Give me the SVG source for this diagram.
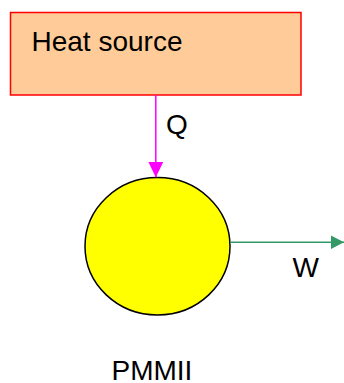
<svg xmlns="http://www.w3.org/2000/svg" width="344" height="383" viewBox="0 0 344 383">
<style>
text{font-family:"Liberation Sans",Arial,sans-serif;font-size:28px;fill:#000}
</style>
<defs>
<marker id="mQ" markerWidth="15" markerHeight="16" refX="15.5" refY="7.5" orient="auto" markerUnits="userSpaceOnUse">
<path d="M0,0 L15.5,7.5 L0,15 Z" fill="#FF00FF"/>
</marker>
<marker id="mW" markerWidth="14" markerHeight="15" refX="13.5" refY="7" orient="auto" markerUnits="userSpaceOnUse">
<path d="M0,0 L13.5,7 L0,14 Z" fill="#339966"/>
</marker>
</defs>
<g id="heat-source">
<rect x="10.5" y="12.5" width="290.5" height="82.5" fill="#FFCC99" stroke="#FF0000" stroke-width="1.5"/>
<text x="31.5" y="50.5">Heat source</text>
</g>
<g id="pmmii">
<ellipse cx="157.5" cy="246.3" rx="72.5" ry="68.7" fill="#FFFF00" stroke="#000" stroke-width="1.5"/>
<text x="111.5" y="380">PMMII</text>
</g>
<g id="connectors">
<line x1="155.8" y1="95" x2="155.8" y2="177.3" stroke="#FF00FF" stroke-width="1.5" marker-end="url(#mQ)"/>
<text x="166" y="133.5">Q</text>
<line x1="230" y1="242.3" x2="344" y2="242.3" stroke="#339966" stroke-width="1.5" marker-end="url(#mW)"/>
<text x="292.5" y="276.5">W</text>
</g>
</svg>
